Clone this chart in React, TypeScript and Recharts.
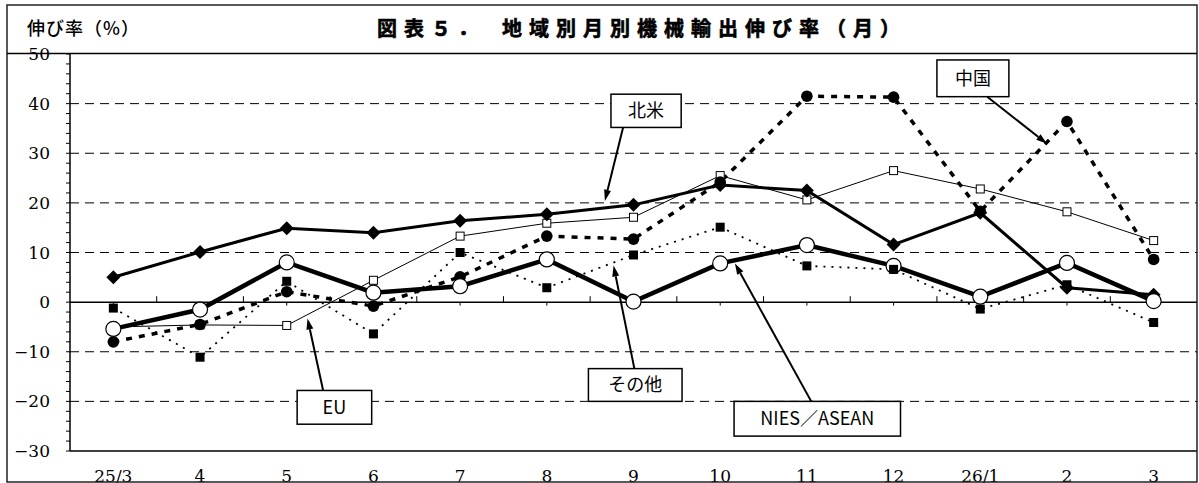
import React from 'react';
import { LineChart, Line, XAxis, YAxis, ReferenceLine } from 'recharts';

// 月ラベル
const months = ['25/3', '4', '5', '6', '7', '8', '9', '10', '11', '12', '26/1', '2', '3'];

// 地域別伸び率（%）
const northAmerica = [5.0, 10.1, 14.9, 14.0, 16.4, 17.7, 19.6, 23.6, 22.5, 11.6, 18.0, 2.9, 1.5];
const china = [-8.0, -4.5, 2.1, -0.8, 5.1, 13.3, 12.7, 24.2, 41.5, 41.3, 18.3, 36.4, 8.6];
const niesAsean = [-5.4, -1.5, 8.0, 1.9, 3.2, 8.6, 0.1, 7.8, 11.5, 7.3, 1.1, 7.9, 0.2];
const eu = [-5.0, -4.6, -4.7, 4.4, 13.3, 15.9, 17.1, 25.5, 20.6, 26.5, 22.8, 18.2, 12.4];
const others = [-1.2, -11.1, 4.2, -6.4, 10.0, 2.9, 9.5, 15.1, 7.3, 6.6, -1.4, 3.5, -4.1];

const yTicks = [-30, -28, -26, -24, -22, -20, -18, -16, -14, -12, -10, -8, -6, -4, -2, 0,
  2, 4, 6, 8, 10, 12, 14, 16, 18, 20, 22, 24, 26, 28, 30, 32, 34, 36, 38, 40, 42, 44, 46, 48, 50];
const gridLines = [40, 30, 20, 10, -10, -20];

const data = months.map((m, i) => ({
  idx: i,
  month: m,
  na: northAmerica[i],
  cn: china[i],
  nies: niesAsean[i],
  eu: eu[i],
  other: others[i],
}));

// 吹き出し（箱の範囲と矢印、データ座標）
const callouts = [
  { text: '北米', box: [5.74, 6.55, 35.2, 41.9], from: [5.88, 35.2], to: [5.67, 20.4] },
  { text: '中国', box: [9.5, 10.33, 41.4, 48.8], from: [10.08, 41.4], to: [10.77, 31.9] },
  { text: 'EU', box: [2.12, 2.98, -24.6, -17.8], from: [2.42, -17.8], to: [2.24, -3.3] },
  { text: 'その他', box: [5.48, 6.56, -20.0, -13.4], from: [6.01, -13.4], to: [5.77, 7.4] },
  { text: 'NIES／ASEAN', box: [7.16, 9.08, -27.0, -20.0], from: [8.05, -20.0], to: [7.17, 7.8] },
];

const jp = '"Noto Sans CJK JP", "Noto Sans", sans-serif';
const serif = '"DejaVu Serif", "Liberation Serif", serif';

const Diamond = (p: any) => (
  <polygon
    key={p.key}
    points={`${p.cx},${p.cy - 7} ${p.cx + 7},${p.cy} ${p.cx},${p.cy + 7} ${p.cx - 7},${p.cy}`}
    fill="#000"
  />
);
const FilledCircle = (p: any) => <circle key={p.key} cx={p.cx} cy={p.cy} r={5.8} fill="#000" />;
const OpenCircle = (p: any) => (
  <circle key={p.key} cx={p.cx} cy={p.cy} r={7.5} fill="#fff" stroke="#000" strokeWidth={1.2} />
);
const OpenSquare = (p: any) => (
  <rect key={p.key} x={p.cx - 4} y={p.cy - 4} width={8} height={8} fill="#fff" stroke="#000" strokeWidth={1} />
);
const FilledSquare = (p: any) => <rect key={p.key} x={p.cx - 4.5} y={p.cy - 4.5} width={9} height={9} fill="#000" />;

const YTick = (p: any) => {
  const v = p.payload.value;
  if (v % 10 !== 0) return <g />;
  const label = v < 0 ? `−${Math.abs(v)}` : `${v}`;
  return (
    <text x={p.x} y={p.y} dy={6} textAnchor="end" fontSize={17} fontFamily={serif} fill="#000">
      {label}
    </text>
  );
};

const XTick = (p: any) => (
  <text x={p.x} y={p.y} dy={31} textAnchor="middle" fontSize={17} fontFamily={serif} fill="#000">
    {months[p.payload.value]}
  </text>
);

const Arrow = (p: any) => {
  const { x1, y1, x2, y2 } = p;
  const a = Math.atan2(y2 - y1, x2 - x1);
  const len = 11;
  const w = 3.5;
  const bx = x2 - len * Math.cos(a);
  const by = y2 - len * Math.sin(a);
  const nx = -Math.sin(a) * w;
  const ny = Math.cos(a) * w;
  return (
    <g>
      <line x1={x1} y1={y1} x2={bx} y2={by} stroke="#000" strokeWidth={2} />
      <polygon points={`${x2},${y2} ${bx + nx},${by + ny} ${bx - nx},${by - ny}`} fill="#000" />
    </g>
  );
};

// 線分の両端を対角とする白抜きの箱と文字
const labelBox = (text: string) => (p: any) => {
  const x = Math.min(p.x1, p.x2);
  const y = Math.min(p.y1, p.y2);
  const w = Math.abs(p.x2 - p.x1);
  const h = Math.abs(p.y2 - p.y1);
  return (
    <g>
      <rect x={x} y={y} width={w} height={h} fill="#fff" stroke="#000" strokeWidth={1.5} />
      <text
        x={x + w / 2}
        y={y + h / 2}
        dy={6.5}
        textAnchor="middle"
        fontSize={18}
        fontFamily={jp}
        fill="#000"
      >
        {text}
      </text>
    </g>
  );
};

export default function App() {
  return (
    <div style={{ position: 'absolute', left: 0, top: 0, width: 1199, height: 483, background: '#fff' }}>
      <LineChart
        width={1199}
        height={483}
        data={data}
        margin={{ top: 54, right: 2, bottom: 3, left: 8 }}
      >
        <XAxis
          type="number"
          dataKey="idx"
          domain={[-0.5, 12.5]}
          ticks={[0, 1, 2, 3, 4, 5, 6, 7, 8, 9, 10, 11, 12]}
          interval={0}
          height={29}
          tickLine={false}
          tickSize={0}
          tickMargin={0}
          axisLine={{ stroke: '#000', strokeWidth: 1.5 }}
          tick={<XTick />}
          allowDataOverflow
        />
        <YAxis
          type="number"
          domain={[-30, 50]}
          ticks={yTicks}
          interval={0}
          width={62}
          tickSize={4}
          tickMargin={16}
          tickLine={{ stroke: '#000' }}
          axisLine={{ stroke: '#000', strokeWidth: 1.5 }}
          tick={<YTick />}
        />
        {gridLines.map((v) => (
          <ReferenceLine key={v} y={v} stroke="#000" strokeWidth={1} strokeDasharray="9 6" />
        ))}
        <ReferenceLine y={0} stroke="#000" strokeWidth={1.5} />
        {/* 0線上の目盛り */}
        {months.map((m, i) =>
          i < months.length - 1 ? (
            <ReferenceLine key={`b${m}`} segment={[{ x: i + 0.5, y: 0 }, { x: i + 0.5, y: 1.2 }]} stroke="#000" />
          ) : null
        )}
        {months.map((m, i) => (
          <ReferenceLine key={`c${m}`} segment={[{ x: i, y: 0 }, { x: i, y: -0.7 }]} stroke="#000" />
        ))}

        <Line dataKey="eu" stroke="#000" strokeWidth={1} dot={OpenSquare} isAnimationActive={false} />
        <Line
          dataKey="cn"
          stroke="#000"
          strokeWidth={3.5}
          strokeDasharray="6 7"
          dot={FilledCircle}
          isAnimationActive={false}
        />
        <Line dataKey="na" stroke="#000" strokeWidth={3} dot={Diamond} isAnimationActive={false} />
        <Line dataKey="nies" stroke="#000" strokeWidth={4.5} dot={OpenCircle} isAnimationActive={false} />
        <Line
          dataKey="other"
          stroke="#000"
          strokeWidth={1.8}
          strokeDasharray="2 6"
          dot={FilledSquare}
          isAnimationActive={false}
        />

        {callouts.map((c) => (
          <ReferenceLine
            key={`a${c.text}`}
            segment={[{ x: c.from[0], y: c.from[1] }, { x: c.to[0], y: c.to[1] }]}
            shape={Arrow}
          />
        ))}
        {callouts.map((c) => (
          <ReferenceLine
            key={`r${c.text}`}
            segment={[{ x: c.box[0], y: c.box[2] }, { x: c.box[1], y: c.box[3] }]}
            shape={labelBox(c.text)}
          />
        ))}
      </LineChart>

      {/* 外枠と表題 */}
      <svg
        width={1199}
        height={483}
        style={{ position: 'absolute', left: 0, top: 0, pointerEvents: 'none' }}
      >
        <rect x={7} y={5} width={1190} height={477} fill="none" stroke="#222" strokeWidth={1.5} />
        <line x1={7} y1={53.5} x2={1197} y2={53.5} stroke="#000" strokeWidth={1.5} />
        <text
          x={27}
          y={35}
          fontSize={18}
          fontFamily={jp}
          fontWeight={500}
          fill="#000"
          textLength={112}
          lengthAdjust="spacing"
        >
          伸び率（%）
        </text>
        <text
          x={377}
          y={36}
          fontSize={20}
          fontFamily={jp}
          fontWeight={700}
          fill="#000"
          stroke="#000"
          strokeWidth={0.6}
          textLength={523}
          lengthAdjust="spacing"
        >
          図表５．　地域別月別機械輸出伸び率（月）
        </text>
      </svg>
    </div>
  );
}
